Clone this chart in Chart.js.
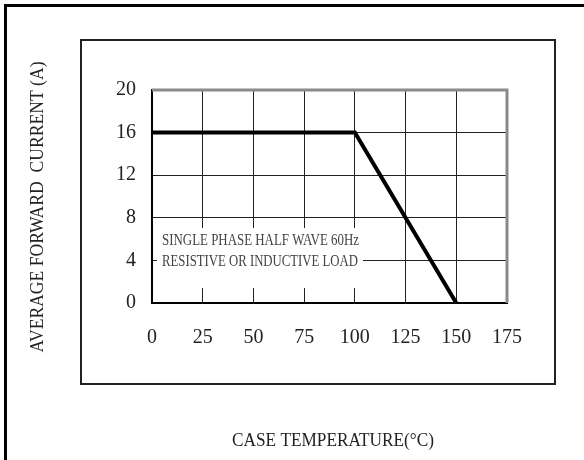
<!DOCTYPE html>
<html>
<head>
<meta charset="utf-8">
<script src="https://cdn.jsdelivr.net/npm/chart.js@4"></script>
<style>
  html, body { margin: 0; padding: 0; background: #fff; }
  #wrap { width: 584px; height: 460px; position: relative; }
</style>
</head>
<body>
<div id="wrap"><canvas id="chartDerating" width="584" height="460"></canvas></div>
<script>
"use strict";

// curva de reducción de corriente
var temps    = [0, 100, 150];
var current  = [16, 16, 0];
var xTicks   = [0, 25, 50, 75, 100, 125, 150, 175];
var yTicks   = [0, 4, 8, 12, 16, 20];
var noteText = ['SINGLE PHASE HALF WAVE 60Hz', 'RESISTIVE OR INDUCTIVE LOAD'];
var xTitle   = 'CASE TEMPERATURE(\u00B0C)';
var yTitle   = 'AVERAGE FORWARD  CURRENT (A)';

var SERIF = "'Liberation Serif', 'DejaVu Serif', serif";

var framePlugin = {
  id: 'frame',
  beforeDraw: function (chart) {
    var ctx = chart.ctx;
    ctx.save();
    ctx.fillStyle = '#fff';
    ctx.fillRect(0, 0, chart.width, chart.height);
    // borde exterior (solo arriba e izquierda)
    ctx.fillStyle = '#000';
    ctx.fillRect(4, 4, chart.width - 4, 3);
    ctx.fillRect(4, 4, 3, chart.height - 4);
    // recuadro interior
    ctx.strokeStyle = '#222';
    ctx.lineWidth = 2;
    ctx.strokeRect(81, 40, 474, 344);
    ctx.restore();
  },
  beforeDatasetsDraw: function (chart) {
    var ctx = chart.ctx, xs = chart.scales.x, ys = chart.scales.y, a = chart.chartArea;
    ctx.save();
    // caja blanca de la nota
    var bx0 = xs.getPixelForValue(0) + 5, bx1 = xs.getPixelForValue(104);
    var by0 = ys.getPixelForValue(7.05), by1 = ys.getPixelForValue(1.4);
    ctx.fillStyle = '#fff';
    ctx.fillRect(bx0, by0, bx1 - bx0, by1 - by0);
    ctx.fillStyle = '#444';
    ctx.font = '16px ' + SERIF;
    ctx.textBaseline = 'middle';
    ctx.textAlign = 'left';
    var tx = xs.getPixelForValue(0) + 10;
    ctx.fillText(noteText[0], tx, ys.getPixelForValue(5.8), 197);
    ctx.fillText(noteText[1], tx, ys.getPixelForValue(3.85), 196);
    // borde gris arriba y derecha
    ctx.strokeStyle = '#8a8a8a';
    ctx.lineWidth = 3;
    ctx.beginPath();
    ctx.moveTo(a.left, a.top);
    ctx.lineTo(a.right, a.top);
    ctx.lineTo(a.right, a.bottom);
    ctx.stroke();
    ctx.restore();
  },
  afterDraw: function (chart) {
    var ctx = chart.ctx;
    ctx.save();
    ctx.fillStyle = '#222';
    ctx.textAlign = 'center';
    ctx.textBaseline = 'middle';
    ctx.font = '19px ' + SERIF;
    ctx.fillText(xTitle, 333, 441, 202);
    ctx.translate(38.5, 207);
    ctx.rotate(-Math.PI / 2);
    ctx.font = '18px ' + SERIF;
    ctx.fillText(yTitle, 0, 0, 291);
    ctx.restore();
  }
};

new Chart(document.getElementById('chartDerating'), {
  type: 'line',
  data: {
    datasets: [{
      label: 'IF(AV)',
      data: temps.map(function (t, i) { return { x: t, y: current[i] }; }),
      borderColor: '#000',
      borderWidth: 4,
      pointRadius: 0,
      tension: 0,
      fill: false
    }]
  },
  options: {
    responsive: false,
    animation: false,
    layout: { padding: { left: 0, top: 90, right: 77, bottom: 0 } },
    plugins: { legend: { display: false }, tooltip: { enabled: false } },
    scales: {
      x: {
        type: 'linear',
        min: xTicks[0],
        max: xTicks[xTicks.length - 1],
        afterFit: function (s) { s.height = 157; },
        afterBuildTicks: function (s) { s.ticks = xTicks.map(function (v) { return { value: v }; }); },
        grid: { color: '#222', lineWidth: 1, drawTicks: false },
        border: { color: '#000', width: 2 },
        ticks: { color: '#222', padding: 23, maxRotation: 0, font: { family: SERIF, size: 20 } }
      },
      y: {
        min: yTicks[0],
        max: yTicks[yTicks.length - 1],
        afterFit: function (s) { s.width = 152; },
        afterBuildTicks: function (s) { s.ticks = yTicks.map(function (v) { return { value: v }; }); },
        grid: { color: '#222', lineWidth: 1, drawTicks: false },
        border: { color: '#000', width: 2 },
        ticks: { color: '#222', padding: 16, font: { family: SERIF, size: 20 } }
      }
    }
  },
  plugins: [framePlugin]
});
</script>
</body>
</html>
